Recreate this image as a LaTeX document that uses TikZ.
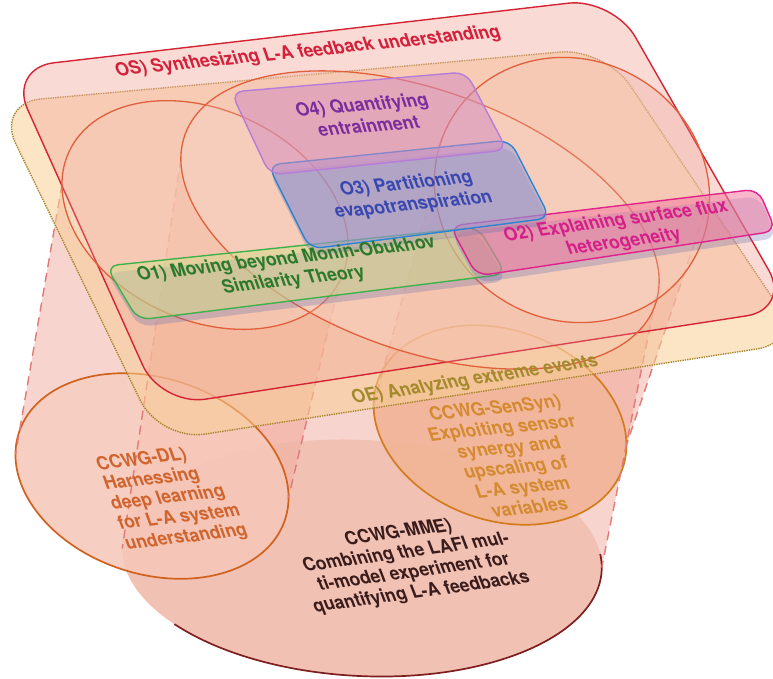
\documentclass[tikz,border=0pt]{standalone}
\usepackage{fontspec}
\setmainfont{TeX Gyre Heros}
\usetikzlibrary{shadows}

\definecolor{osline}{HTML}{D42433}
\definecolor{osfill}{HTML}{F2ADA0}
\definecolor{ostext}{HTML}{D4203A}
\definecolor{oeline}{HTML}{A8862E}
\definecolor{oefill}{HTML}{F7CF96}
\definecolor{oetext}{HTML}{A38A2C}
\definecolor{ringline}{HTML}{E0603C}
\definecolor{cylfill}{HTML}{EE9484}
\definecolor{cyldash}{HTML}{E07A78}
\definecolor{shadowblue}{HTML}{6C70B0}
\definecolor{ofourline}{HTML}{B67CDA}
\definecolor{ofourfill}{HTML}{D48CC0}
\definecolor{ofourtext}{HTML}{7B2D9E}
\definecolor{othreeline}{HTML}{2C84D2}
\definecolor{othreefill}{HTML}{9C9CD6}
\definecolor{othreetext}{HTML}{3848B0}
\definecolor{ooneline}{HTML}{3EB24A}
\definecolor{oonefill}{HTML}{D6DC8C}
\definecolor{oonetext}{HTML}{2B7A2B}
\definecolor{otwoline}{HTML}{E1228C}
\definecolor{otwofill}{HTML}{F27CA0}
\definecolor{otwotext}{HTML}{D61F8A}
\definecolor{dlline}{HTML}{D0621E}
\definecolor{dlfill}{HTML}{F8CCBE}
\definecolor{dltext}{HTML}{D0642E}
\definecolor{senline}{HTML}{D27C1E}
\definecolor{senfill}{HTML}{F2B48E}
\definecolor{sentext}{HTML}{D38A30}
\definecolor{mmeline}{HTML}{7E1F1F}
\definecolor{mmefill}{HTML}{EDB4A2}
\definecolor{mmetext}{HTML}{3A1C1C}

\begin{document}
\begin{tikzpicture}[
		x=1pt, y=-1pt,
		plane/.style={rounded corners=45pt, line width=1.4pt},
		ring/.style={draw=ringline, line width=1.3pt, fill=white, fill opacity=.15},
		cylside/.style={draw=cyldash, dash pattern=on 9pt off 6pt, line width=1.4pt},
		basering/.style={line width=1.7pt, fill opacity=.6},
		goalbox/.style={rounded corners=12pt, line width=1.4pt, fill opacity=.55},
		boxshadow/.style={drop shadow={shadow xshift=1pt, shadow yshift=-7pt, fill=shadowblue, opacity=.3}},
		goaltext/.style={font=\fontsize{18}{21}\selectfont\bfseries, align=center, inner sep=0pt, xslant=-0.25},
		wgtext/.style={font=\fontsize{18}{20}\selectfont\bfseries, inner sep=0pt, xslant=-0.25}
	]

		\useasboundingbox (0,0) rectangle (773,678);
		\clip (0,0) rectangle (773,678);

		% Ring centres and side points
		\coordinate (dlTop) at (205,215);
		\coordinate (mmeTop) at (420,220);
		\coordinate (senTop) at (572,190);
		\coordinate (dlBot) at (152,476);
		\coordinate (mmeBot) at (362,558);
		\coordinate (senBot) at (500,425);
		\path[shift={(dlTop)}, rotate=-25] (161.9:150 and 105) coordinate (dlTopW) (-18.1:150 and 105) coordinate (dlTopE);
		\path[shift={(mmeTop)}, rotate=-20] (169.3:250 and 130) coordinate (mmeTopW) (-10.7:250 and 130) coordinate (mmeTopE);
		\path[shift={(senTop)}, rotate=-30] (151.8:140 and 130) coordinate (senTopW) (-28.2:140 and 130) coordinate (senTopE);
		\path[shift={(dlBot)}, rotate=-18] (167.2:140 and 98) coordinate (dlBotW) (-12.8:140 and 98) coordinate (dlBotE);
		\path[shift={(mmeBot)}, rotate=-3] (178.5:240 and 118) coordinate (mmeBotW) (-1.5:240 and 118) coordinate (mmeBotE);
		\path[shift={(senBot)}, rotate=-20] (165.1:130 and 95) coordinate (senBotW) (-14.9:130 and 95) coordinate (senBotE);

		% Cylinders
		\begin{scope}[transparency group, opacity=.4]
			\fill[cylfill] (mmeTopW) -- (mmeBotW) -- (mmeBotE) -- (mmeTopE) -- cycle;
			\fill[cylfill, shift={(mmeTop)}, rotate=-20] (0,0) ellipse [x radius=250, y radius=130];
			\fill[cylfill, shift={(mmeBot)}, rotate=-3] (0,0) ellipse [x radius=240, y radius=118];
		\end{scope}
		\begin{scope}[transparency group, opacity=.4]
			\fill[cylfill] (dlTopW) -- (dlBotW) -- (dlBotE) -- (dlTopE) -- cycle;
			\fill[cylfill, shift={(dlTop)}, rotate=-25] (0,0) ellipse [x radius=150, y radius=105];
			\fill[cylfill, shift={(dlBot)}, rotate=-18] (0,0) ellipse [x radius=140, y radius=98];
		\end{scope}
		\begin{scope}[transparency group, opacity=.4]
			\fill[cylfill] (senTopW) -- (senBotW) -- (senBotE) -- (senTopE) -- cycle;
			\fill[cylfill, shift={(senTop)}, rotate=-30] (0,0) ellipse [x radius=140, y radius=130];
			\fill[cylfill, shift={(senBot)}, rotate=-20] (0,0) ellipse [x radius=130, y radius=95];
		\end{scope}

		% Working groups
		\fill[basering, fill=mmefill, shift={(mmeBot)}, rotate=-3] (0,0) ellipse [x radius=240, y radius=118];
		\draw[basering, draw=mmeline, shift={(mmeBot)}, rotate=-3] (140:240 and 118) arc [start angle=140, end angle=-8, x radius=240, y radius=118];
		\filldraw[basering, fill opacity=.75, draw=dlline, fill=dlfill, shift={(dlBot)}, rotate=-18] (0,0) ellipse [x radius=140, y radius=98];
		\filldraw[basering, draw=senline, fill=senfill, shift={(senBot)}, rotate=-20] (0,0) ellipse [x radius=130, y radius=95];

		\draw[cylside] (dlTopW) -- (dlBotW);
		\draw[cylside] (dlTopE) -- (dlBotE);
		\draw[cylside] (mmeTopW) -- (mmeBotW);
		\draw[cylside] (mmeTopE) -- (mmeBotE);
		\draw[cylside] (senTopW) -- (senBotW);
		\draw[cylside] (senTopE) -- (senBotE);

		% Planes
		\filldraw[plane, draw=oeline, densely dotted, fill=oefill, fill opacity=.55] (-4,103) -- (605,48) -- (802,342) -- (160,441) -- cycle;
		\filldraw[plane, draw=osline, fill=osfill, fill opacity=.45] (9,68) -- (613,-2) -- (791,309) -- (161,406) -- cycle;

		% Rings in the top plane
		\draw[ring, shift={(dlTop)}, rotate=-25] (0,0) ellipse [x radius=150, y radius=105];
		\draw[ring, shift={(mmeTop)}, rotate=-20] (0,0) ellipse [x radius=250, y radius=130];
		\draw[ring, shift={(senTop)}, rotate=-30] (0,0) ellipse [x radius=140, y radius=130];

		% Objectives
		\filldraw[goalbox, boxshadow, draw=ooneline, fill=oonefill] (106,266) -- (478,227) -- (506,274) -- (138,320) -- cycle;
		\filldraw[goalbox, boxshadow, draw=otwoline, fill=otwofill] (450,226) -- (758,189) -- (776,231) -- (477,276) -- cycle;
		\filldraw[goalbox, boxshadow, draw=othreeline, fill=othreefill] (268,165) -- (510,140) -- (550,218) -- (310,249) -- cycle;
		\filldraw[goalbox, draw=ofourline, fill=ofourfill] (231,92) -- (466,72) -- (507,150) -- (270,175) -- cycle;

		% Labels
		\node[goaltext, text=ostext, rotate=5.7] (osLabel) at (308,52) {OS) Synthesizing L-A feedback understanding};
		\node[goaltext, text=oetext, rotate=8.5] (oeLabel) at (475,380) {OE) Analyzing extreme events};
		\node[goaltext, text=ofourtext, rotate=4.5] (oFour) at (365,115) {O4) Quantifying\\entrainment};
		\node[goaltext, text=othreetext, rotate=5.5] (oThree) at (410,195) {O3) Partitioning\\evapotranspiration};
		\node[goaltext, text=oonetext, rotate=6.2] (oOne) at (290,270) {O1) Moving beyond Monin-Obukhov\\Similarity Theory};
		\node[goaltext, text=otwotext, rotate=7.4] (oTwo) at (620,232) {O2) Explaining surface flux\\heterogeneity};
		\node[wgtext, text=dltext, align=left, rotate=6.5] (dlLabel) at (172,498) {CCWG-DL)\\Harnessing\\deep learning\\for L-A system\\understanding};
		\node[wgtext, text=sentext, align=center, rotate=5.6] (senLabel) at (512,457) {CCWG-SenSyn)\\Exploiting sensor\\synergy and\\upscaling of\\L-A system\\variables};
		\node[wgtext, text=mmetext, align=center, rotate=7.6] (mmeLabel) at (410,563) {CCWG-MME)\\Combining the LAFI mul-\\ti-model experiment for\\quantifying L-A feedbacks};
	\end{tikzpicture}
\end{document}
